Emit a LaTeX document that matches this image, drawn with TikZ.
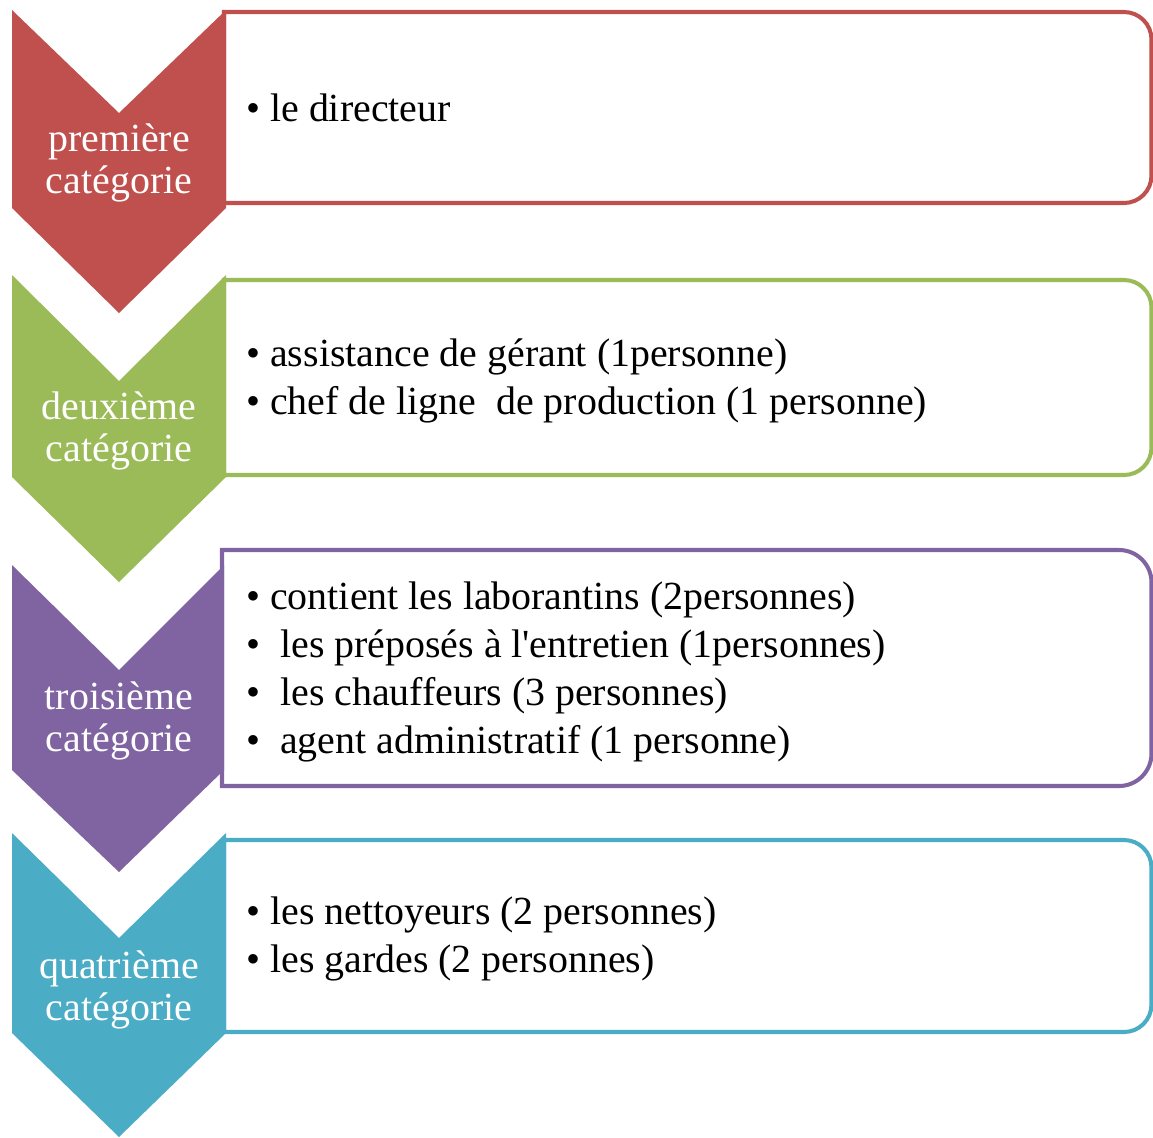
\documentclass[tikz,border=0pt]{standalone}
\usepackage{fontspec}
\setmainfont{Liberation Serif}
\usepackage{xcolor}
\usepackage{tikz}
\definecolor{catred}{HTML}{C0504D}
\definecolor{catgreen}{HTML}{9BBB59}
\definecolor{catpurple}{HTML}{8064A2}
\definecolor{catblue}{HTML}{4BACC6}
\newcommand{\bigfont}{\fontsize{22.7}{27.2}\selectfont}
\newcommand{\catfont}{\fontsize{22.7}{23.8}\selectfont}

\begin{document}
\begin{tikzpicture}[x=0.02cm,y=-0.02cm,
	list box/.style={line width=2.3pt, fill=white},
	cat node/.style={text=white, align=center, inner sep=0pt, font=\catfont},
	list node/.style={anchor=west, align=left, inner sep=0pt, font=\bigfont}]
	\useasboundingbox (0,0) rectangle (1153,1137);
	
	% Boxes
	\draw[list box, draw=catred] (224,12) [rounded corners=0.55cm] -- (1151.5,12) -- (1151.5,203) [sharp corners] -- (224,203) -- cycle;
	\draw[list box, draw=catgreen] (224,280) [rounded corners=0.55cm] -- (1151.5,280) -- (1151.5,475) [sharp corners] -- (224,475) -- cycle;
	\draw[list box, draw=catpurple] (222,550) [rounded corners=0.65cm] -- (1151.5,550) -- (1151.5,786) [sharp corners] -- (222,786) -- cycle;
	\draw[list box, draw=catblue] (224,840) [rounded corners=0.55cm] -- (1151.5,840) -- (1151.5,1032) [sharp corners] -- (224,1032) -- cycle;
	
	% Chevrons
	\fill[catred] (12,10) -- (119,113) -- (226,10) -- (226,208) -- (119,313) -- (12,208) -- cycle;
	\fill[catgreen] (12,275) -- (119,381) -- (226,275) -- (226,477) -- (119,582) -- (12,477) -- cycle;
	\fill[catpurple] (12,565) -- (119,670) -- (224,565) -- (224,770) -- (119,872) -- (12,770) -- cycle;
	\fill[catblue] (12,833) -- (119,938) -- (226,833) -- (226,1033) -- (119,1137) -- (12,1033) -- cycle;
	
	% Nodes
	\node[cat node] (cat1) at (119,163) {première\\catégorie};
	\node[cat node] (cat2) at (119,431) {deuxième\\catégorie};
	\node[cat node] (cat3) at (119,721) {troisième\\catégorie};
	\node[cat node] (cat4) at (119,990) {quatrième\\catégorie};
	
	\node[list node] (list1) at (246,108) {\textbullet\ le directeur};
	\node[list node] (list2) at (246,381) {\textbullet\ assistance de gérant (1personne)\\
		\textbullet\ chef de ligne \ de production (1 personne)};
	\node[list node] (list3) at (246,672) {\textbullet\ contient les laborantins (2personnes)\\
		\textbullet\ \ les préposés à l\textquotesingle entretien (1personnes)\\
		\textbullet\ \ les chauffeurs (3 personnes)\\
		\textbullet\ \ agent administratif (1 personne)};
	\node[list node] (list4) at (246,939) {\textbullet\ les nettoyeurs (2 personnes)\\
		\textbullet\ les gardes (2 personnes)};
	
\end{tikzpicture}
\end{document}
